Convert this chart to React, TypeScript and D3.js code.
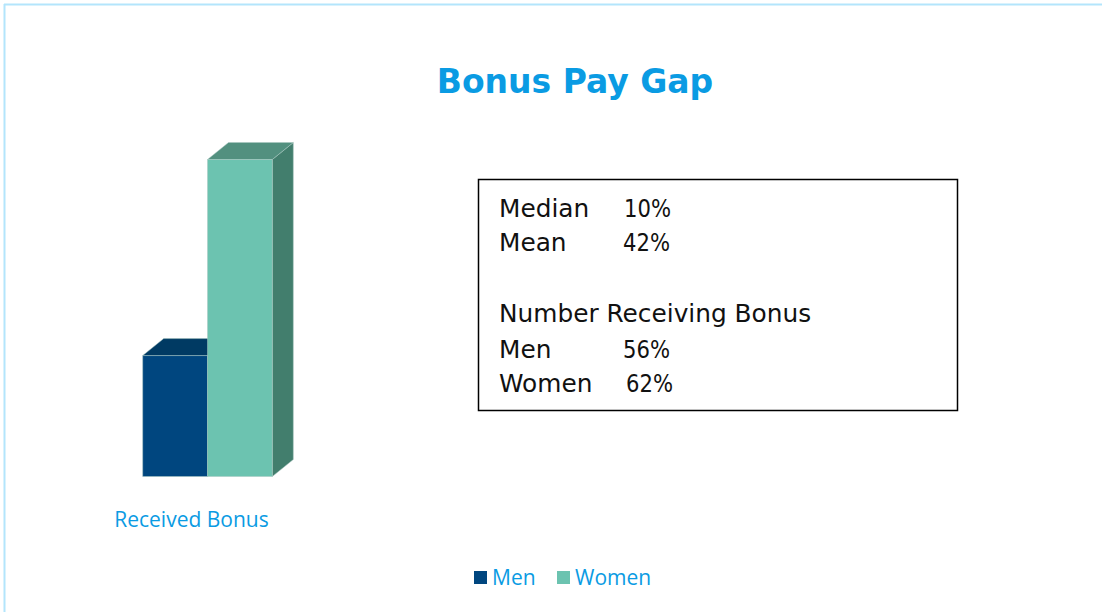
import React from "react";
import * as d3 from "d3";

const title = "Bonus Pay Gap";
const categories = ["Received Bonus"];
const seriesNames = ["Men", "Women"];
const seriesValues = [56, 62];
const seriesColors = ["#00467f", "#6cc3b0"];
const topColors = ["#003a63", "#52907f"];
const sideColors = ["#00365c", "#427e6d"];
const boxLines = [
  { label: "Median", value: "10%" },
  { label: "Mean", value: "42%" },
  { label: "", value: "" },
  { label: "Number Receiving Bonus", value: "" },
  { label: "Men", value: "56%" },
  { label: "Women", value: "62%" },
];
const valueOffsets = [125, 124, 0, 0, 124, 127];

const W = 1102;
const H = 612;

export default function App() {
  const plotLeft = 142.7;
  const plotRight = 272.3;
  const baseY = 476.5;
  const topY = 159.5;
  const dx = 21;
  const dy = -17;

  const xCat = d3.scaleBand().domain(categories).range([plotLeft, plotRight]).padding(0);
  const xSer = d3.scaleBand().domain(seriesNames).range([0, xCat.bandwidth()]).padding(0);
  const y = d3.scaleLinear().domain([52.3, 62]).range([baseY, topY]);

  const bars = seriesNames.map((name, i) => {
    const x0 = (xCat(categories[0]) as number) + (xSer(name) as number);
    const w = xSer.bandwidth();
    const yt = y(seriesValues[i]);
    return { name, i, x0, w, yt };
  });

  const line = d3.line();
  const rowY = [217, 251, 0, 322, 357.5, 392];

  return (
    <svg width={W} height={H} style={{ display: "block", position: "absolute", left: 0, top: 0, background: "#fff" }}>
      <rect x={0} y={0} width={W} height={H} fill="#fff" />
      <line x1={4.5} y1={4} x2={4.5} y2={H} stroke="#b3e5fc" strokeWidth={2} />
      <line x1={4} y1={4.5} x2={W} y2={4.5} stroke="#b3e5fc" strokeWidth={2} />

      <text x={575} y={93} textAnchor="middle" fill="#0a9be3" fontFamily="'DejaVu Sans', sans-serif" fontWeight={700} fontSize={33}>
        {title}
      </text>

      {bars.map((b) => {
        const front: [number, number][] = [
          [b.x0, b.yt], [b.x0 + b.w, b.yt], [b.x0 + b.w, baseY], [b.x0, baseY],
        ];
        const top: [number, number][] = [
          [b.x0, b.yt], [b.x0 + dx, b.yt + dy], [b.x0 + b.w + dx, b.yt + dy], [b.x0 + b.w, b.yt],
        ];
        const side: [number, number][] = [
          [b.x0 + b.w, b.yt], [b.x0 + b.w + dx, b.yt + dy], [b.x0 + b.w + dx, baseY + dy], [b.x0 + b.w, baseY],
        ];
        return (
          <g key={b.name}>
            <path d={line(side.concat([side[0]])) as string} fill={sideColors[b.i]} stroke="#a9c6c0" strokeWidth={0.5} />
            <path d={line(top.concat([top[0]])) as string} fill={topColors[b.i]} stroke="#a9c6c0" strokeWidth={0.5} />
            <path d={line(front.concat([front[0]])) as string} fill={seriesColors[b.i]} stroke="#a9c6c0" strokeWidth={0.5} />
          </g>
        );
      })}

      <text x={191.5} y={527} textAnchor="middle" fill="#0a9be3" fontFamily="'Open Sans', sans-serif" fontSize={21}>
        {categories[0]}
      </text>

      <rect x={478.5} y={179.5} width={479} height={231} fill="none" stroke="#000" strokeWidth={1.5} />
      {boxLines.map((l, i) => {
        const yy = rowY[i];
        return (
          <g key={i}>
            {l.label && (
              <text x={499} y={yy} fill="#111" fontFamily="'DejaVu Sans', sans-serif" fontSize={24.8}>
                {l.label}
              </text>
            )}
            {l.value && (
              <text x={499 + valueOffsets[i]} y={yy} fill="#111" fontFamily="'DejaVu Sans', sans-serif" fontSize={24.8}
                textLength={47} lengthAdjust="spacingAndGlyphs">
                {l.value}
              </text>
            )}
          </g>
        );
      })}

      {seriesNames.map((n, i) => {
        const lx = [474, 557][i];
        return (
          <g key={n}>
            <rect x={lx} y={571} width={13} height={13} fill={seriesColors[i]} />
            <text x={lx + 18} y={585} fill="#0a9be3" fontFamily="'Open Sans', sans-serif" fontSize={21}>
              {n}
            </text>
          </g>
        );
      })}
    </svg>
  );
}
